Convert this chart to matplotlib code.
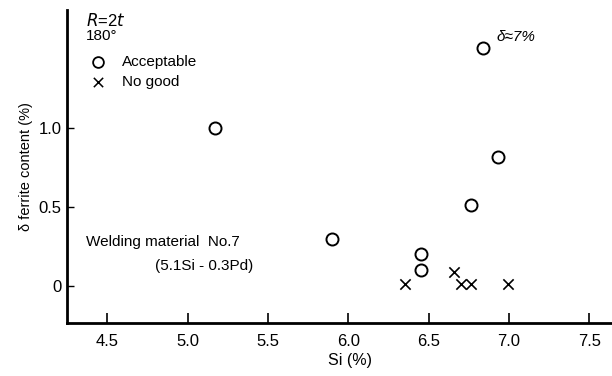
import matplotlib
matplotlib.use("Agg")
import matplotlib.pyplot as plt

plt.rcParams['font.family'] = ['Liberation Sans', 'DejaVu Sans']

acc_x = [5.17, 5.90, 6.45, 6.45, 6.76, 6.93, 6.84]
acc_y = [1.00, 0.30, 0.20, 0.10, 0.51, 0.82, 1.51]
ng_x = [6.35, 6.66, 6.70, 6.76, 6.99]
ng_y = [0.01, 0.09, 0.01, 0.01, 0.01]
xticks = [4.5, 5.0, 5.5, 6.0, 6.5, 7.0, 7.5]
xtick_labels = ["4.5", "5.0", "5.5", "6.0", "6.5", "7.0", "7.5"]
yticks = [0, 0.5, 1.0]
ytick_labels = ["0", "0.5", "1.0"]

fig = plt.figure(figsize=(6.12, 3.76), dpi=100)
ax = fig.add_axes([0.1095, 0.141, 0.8905, 0.832])
ax.set_xlim(4.25, 7.64)
ax.set_ylim(-0.234, 1.747)

ax.scatter(acc_x, acc_y, s=75, facecolors='white', edgecolors='black', linewidths=1.4, zorder=3)
ax.scatter(ng_x, ng_y, s=55, marker='x', color='black', linewidths=1.2, zorder=3)

for s in ['top', 'right']:
    ax.spines[s].set_visible(False)
for s in ['left', 'bottom']:
    ax.spines[s].set_linewidth(2.0)

ax.set_xticks(xticks)
ax.set_xticklabels(xtick_labels, fontsize=12)
ax.set_yticks(yticks)
ax.set_yticklabels(ytick_labels, fontsize=12)
ax.tick_params(axis='x', direction='in', length=7, width=1.2, pad=8)
ax.tick_params(axis='y', direction='in', length=5, width=1.0, pad=4)

ax.set_xlabel("Si (%)", fontsize=11.5)
ax.xaxis.set_label_coords(0.52, -0.095)
ax.set_ylabel("δ ferrite content (%)", fontsize=10.5)
ax.yaxis.set_label_coords(-0.063, 0.5)

# annotations
ax.text(4.37, 1.68, "$R$=2$t$", fontsize=12, ha='left', va='center')
ax.text(4.37, 1.585, "180°", fontsize=11, ha='left', va='center')
ax.scatter([4.44], [1.42], s=60, facecolors='white', edgecolors='black', linewidths=1.3)
ax.text(4.59, 1.42, "Acceptable", fontsize=11, ha='left', va='center')
ax.scatter([4.44], [1.29], s=45, marker='x', color='black', linewidths=1.1)
ax.text(4.59, 1.29, "No good", fontsize=11, ha='left', va='center')

ax.text(6.92, 1.575, "δ≈7%", fontsize=11, ha='left', va='center', fontstyle='italic')
ax.text(4.37, 0.28, "Welding material  No.7", fontsize=11, ha='left', va='center')
ax.text(4.80, 0.13, "(5.1Si - 0.3Pd)", fontsize=11, ha='left', va='center')

fig.savefig("out.png", dpi=100)
